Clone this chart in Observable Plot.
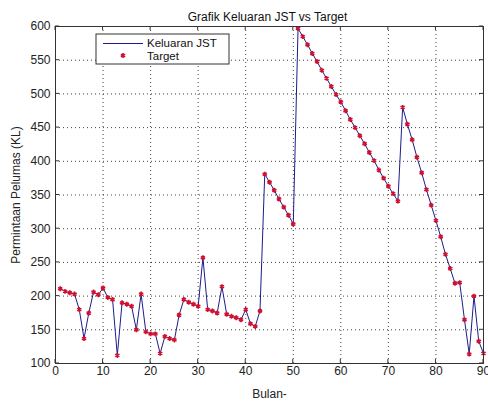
<!DOCTYPE html>
<html>
<head>
<meta charset="utf-8">
<script src="https://cdn.jsdelivr.net/npm/d3@7"></script>
<script src="https://cdn.jsdelivr.net/npm/@observablehq/plot@0.6"></script>
<style>
  html, body { margin: 0; padding: 0; background: #fff; }
</style>
</head>
<body>
<div id="chart"></div>
<script>
const titleText = "Grafik Keluaran JST vs Target";
const xLabel = "Bulan-";
const yLabel = "Permintaan Pelumas (KL)";
const seriesNames = ["Keluaran JST", "Target"];

const months = d3.range(1, 91);
const target = [211, 207, 205, 203, 180, 137, 175, 206, 202, 212,
                198, 195, 112, 190, 188, 185, 150, 203, 147, 144,
                144, 115, 140, 137, 135, 172, 195, 191, 188, 185,
                257, 180, 178, 175, 214, 173, 170, 168, 165, 180,
                159, 155, 178, 381, 369, 357, 344, 332, 320, 307,
                597, 585, 573, 560, 548, 535, 523, 511, 499, 488,
                475, 462, 450, 438, 426, 413, 401, 387, 375, 363,
                352, 341, 480, 455, 432, 406, 383, 358, 335, 312,
                288, 262, 241, 219, 220, 165, 114, 200, 133, 115];
const jst =    [211, 207, 205, 203, 180, 137, 175, 206, 202, 212,
                198, 195, 112, 190, 188, 185, 150, 203, 147, 144,
                144, 115, 140, 137, 135, 172, 195, 191, 188, 185,
                257, 180, 178, 175, 214, 173, 170, 168, 165, 180,
                159, 155, 178, 381, 369, 357, 344, 332, 320, 307,
                597, 585, 573, 560, 548, 535, 523, 511, 499, 488,
                475, 462, 450, 438, 426, 413, 401, 387, 375, 363,
                352, 341, 480, 455, 432, 406, 383, 358, 335, 312,
                288, 262, 241, 219, 220, 165, 114, 200, 133, 115];
const xTicks = [0, 10, 20, 30, 40, 50, 60, 70, 80, 90];
const yTicks = [100, 150, 200, 250, 300, 350, 400, 450, 500, 550, 600];

const lineColor = "#1c1c8c";
const markColor = "#d0102e";

const jstData = months.map((m, i) => ({month: m, value: jst[i]}));
const targetData = months.map((m, i) => ({month: m, value: target[i]}));

const chart = Plot.plot({
  width: 488,
  height: 401,
  marginLeft: 55,
  marginRight: 5,
  marginTop: 26,
  marginBottom: 38,
  style: {fontFamily: "'Liberation Sans', Arial, sans-serif", fontSize: "12px", color: "#222", background: "#fff"},
  x: {domain: [0, 90]},
  y: {domain: [100, 600]},
  marks: [
    Plot.gridX(xTicks, {stroke: "#000", strokeOpacity: 0.75, strokeDasharray: "1,3"}),
    Plot.gridY(yTicks, {stroke: "#000", strokeOpacity: 0.75, strokeDasharray: "1,3"}),
    Plot.axisX(xTicks, {tickSize: 0, tickPadding: 3, fontSize: 12,
      label: xLabel, labelAnchor: "center", labelArrow: "none", labelOffset: 34}),
    Plot.axisY(yTicks, {tickSize: 0, tickPadding: 5, fontSize: 12,
      label: yLabel, labelAnchor: "center", labelArrow: "none", labelOffset: 44}),
    Plot.lineY(jstData, {x: "month", y: "value", stroke: lineColor, strokeWidth: 1}),
    Plot.dot(targetData, {x: "month", y: "value", symbol: "asterisk", stroke: markColor, strokeWidth: 1.6, r: 2.3}),
    Plot.frame({stroke: "#333", strokeWidth: 1}),
    Plot.text([titleText], {frameAnchor: "top", dy: -14, dx: -2, fontSize: 12, fill: "#111"})
  ]
});

document.getElementById("chart").appendChild(chart);

// MATLAB-style inward ticks on all four sides and legend box
const svg = d3.select(chart);
const xs = chart.scale("x"), ys = chart.scale("y");
const g = svg.append("g").attr("stroke", "#333").attr("stroke-width", 1);
const fTop = 26, fBottom = 401 - 38, fLeft = 55, fRight = 488 - 5;
xTicks.forEach(t => {
  const px = xs.apply(t);
  g.append("line").attr("x1", px).attr("x2", px).attr("y1", fBottom).attr("y2", fBottom - 4);
  g.append("line").attr("x1", px).attr("x2", px).attr("y1", fTop).attr("y2", fTop + 4);
});
yTicks.forEach(t => {
  const py = ys.apply(t);
  g.append("line").attr("x1", fLeft).attr("x2", fLeft + 4).attr("y1", py).attr("y2", py);
  g.append("line").attr("x1", fRight).attr("x2", fRight - 4).attr("y1", py).attr("y2", py);
});

const lg = svg.append("g")
  .attr("font-family", "'Liberation Sans', Arial, sans-serif")
  .attr("font-size", 11.5)
  .attr("text-anchor", "start");
lg.append("rect").attr("x", 96).attr("y", 34).attr("width", 133).attr("height", 30)
  .attr("fill", "#fff").attr("stroke", "#333");
lg.append("line").attr("x1", 103).attr("x2", 143).attr("y1", 43.5).attr("y2", 43.5)
  .attr("stroke", lineColor).attr("stroke-width", 1);
lg.append("text").attr("x", 147).attr("y", 47.3).attr("fill", "#111").attr("text-anchor", "start").text(seriesNames[0]);
lg.append("path").attr("transform", "translate(123,55.5)")
  .attr("d", d3.symbol(d3.symbolAsterisk, Math.PI * 2.3 * 2.3)())
  .attr("stroke", markColor).attr("stroke-width", 1.6).attr("fill", "none");
lg.append("text").attr("x", 147).attr("y", 60.2).attr("fill", "#111").attr("text-anchor", "start").text(seriesNames[1]);
</script>
</body>
</html>
